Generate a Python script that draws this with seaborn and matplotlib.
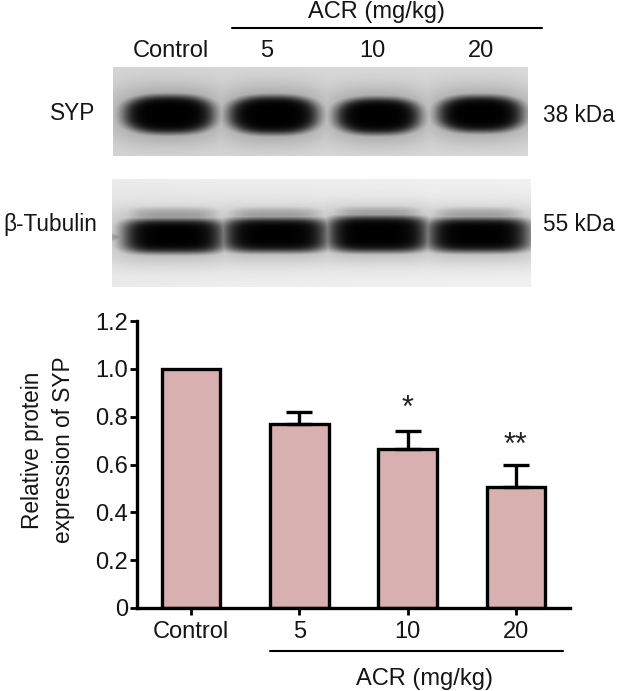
import numpy as np
import pandas as pd
import matplotlib
matplotlib.use('Agg')
import matplotlib.pyplot as plt
import seaborn as sns

# data
groups = ['Control', '5', '10', '20']
syp_mean = [1.0, 0.77, 0.665, 0.506]
syp_err = [0.0, 0.05, 0.076, 0.092]
stars = ['', '', '*', '**']
star_y = [None, None, 0.80, 0.645]
yticks = [0, 0.2, 0.4, 0.6, 0.8, 1.0, 1.2]
ytick_labels = ['0', '0.2', '0.4', '0.6', '0.8', '1.0', '1.2']

sns.set_theme(style='white')
plt.rcParams['font.family'] = ['Liberation Sans', 'DejaVu Sans']
FS = 17
FS_SIDE = 16.3
TXT = '#151515'
bar_color = '#d9b0b0'

W, H = 617, 691
fig = plt.figure(figsize=(W / 100, H / 100), dpi=100)

# overlay in pixel coords for the blot panel and annotations
ov = fig.add_axes([0, 0, 1, 1])
ov.set_xlim(0, W)
ov.set_ylim(H, 0)
ov.axis('off')


def sig(v):
    return 1 / (1 + np.exp(-v))


def blot(x0, x1, y0, y1, bg, bands, p=3.0, halo=0.25):
    xs = np.arange(x0, x1) + 0.5
    ys = np.arange(y0, y1) + 0.5
    X, Y = np.meshgrid(xs, ys)
    dark = np.zeros_like(X)
    for cx, hw, cy, hh, a in bands:
        r = (np.abs((X - cx) / hw) ** p + np.abs((Y - cy) / hh) ** p) ** (1 / p)
        core = sig((1 - r) * hh / 2.2)
        r2 = (np.abs((X - cx) / (hw + 6)) ** p + np.abs((Y - cy) / (hh + 7)) ** p) ** (1 / p)
        soft = sig((1 - r2) * hh / 5)
        dark = np.maximum(dark, a * core)
        dark = np.maximum(dark, halo * a * soft)
    grad = np.linspace(0.0, 0.02, X.shape[1])[None, :]
    img = (bg + grad) * (1 - np.clip(dark, 0, 1))
    ov.imshow(img, cmap='gray', vmin=0, vmax=1, extent=(x0, x1, y1, y0),
              interpolation='bilinear', aspect='auto')


# SYP blot
syp_bands = [(169, 45, 114.5, 19, 1), (273.5, 44.5, 115, 19, 1),
             (378, 42, 116, 18, 1), (480.5, 42.5, 114, 18, 1)]
blot(113, 528, 67, 156, 0.84, syp_bands, p=2.6, halo=0.3)

# beta-tubulin blot
tub_bands = [(173.5, 50, 236, 17, 1), (275.5, 52, 235, 17, 1),
             (378, 50, 234, 18, 1), (478.5, 50.5, 235, 17, 1),
             (118, 8, 237, 3, 0.5),
             (173.5, 44, 220, 12, 0.35), (275.5, 46, 220, 12, 0.35),
             (378, 44, 219, 12, 0.35), (478.5, 44, 220, 12, 0.35)]
blot(112, 531, 179, 287, 0.93, tub_bands, p=4.0, halo=0.3)

ov.set_xlim(0, W)
ov.set_ylim(H, 0)

# blot labels
lane_x = [171, 267, 372, 481]
for lx, g in zip(lane_x, groups):
    ov.text(lx, 57, g, ha='center', va='baseline', fontsize=FS, color=TXT)
ov.text(376, 18, 'ACR (mg/kg)', ha='center', va='baseline', fontsize=FS, color=TXT)
ov.plot([232, 542], [28, 28], color='black', lw=1.5)
ov.text(95, 120, 'SYP', ha='right', va='baseline', fontsize=FS_SIDE, color=TXT)
ov.text(97, 231, 'β-Tubulin', ha='right', va='baseline', fontsize=FS_SIDE, color=TXT)
ov.text(543, 122, '38 kDa', ha='left', va='baseline', fontsize=FS_SIDE, color=TXT)
ov.text(543, 231, '55 kDa', ha='left', va='baseline', fontsize=FS_SIDE, color=TXT)

# bottom group annotation
ov.plot([270, 563], [651, 651], color='black', lw=1.5)
ov.text(425, 685, 'ACR (mg/kg)', ha='center', va='baseline', fontsize=FS, color=TXT)

# bar chart
ax = fig.add_axes([137 / W, 1 - 608 / H, (570 - 137) / W, (608 - 321) / H])
ax.set_zorder(2)
ax.patch.set_alpha(0)
df = pd.DataFrame({'group': groups, 'value': syp_mean})
sns.barplot(data=df, x='group', y='value', color=bar_color, saturation=1,
            edgecolor='black', linewidth=2.4, width=0.54, errorbar=None, ax=ax)
for p in ax.patches:
    p.set_joinstyle('miter')
idx = [1, 2, 3]
ax.errorbar(idx, [syp_mean[i] for i in idx],
            yerr=[[0] * 3, [syp_err[i] for i in idx]],
            fmt='none', ecolor='black', elinewidth=2.4, capsize=9.5, capthick=2.4,
            zorder=1)
for i, (s, sy) in enumerate(zip(stars, star_y)):
    if s:
        ax.text(i, sy, s, ha='center', va='baseline', fontsize=22, color='#222222')

ax.set_xlim(-0.5, 3.5)
ax.set_ylim(0, 1.2)
ax.set_yticks(yticks)
ax.set_yticklabels(ytick_labels)
ax.set_xlabel('')
ax.set_ylabel('Relative protein\nexpression of SYP', fontsize=FS_SIDE, color=TXT,
              linespacing=1.45)
ax.yaxis.set_label_coords(-0.143, 0.55)
sns.despine(ax=ax)
for side in ['left', 'bottom']:
    ax.spines[side].set_linewidth(2.4)
    ax.spines[side].set_color('black')
ax.tick_params(axis='both', direction='out', length=5, width=2, color='black',
               labelsize=FS, labelcolor=TXT)
ax.tick_params(axis='y', pad=1.5, left=True)
ax.tick_params(axis='x', pad=4, bottom=True)

fig.savefig('out.png', dpi=100)
